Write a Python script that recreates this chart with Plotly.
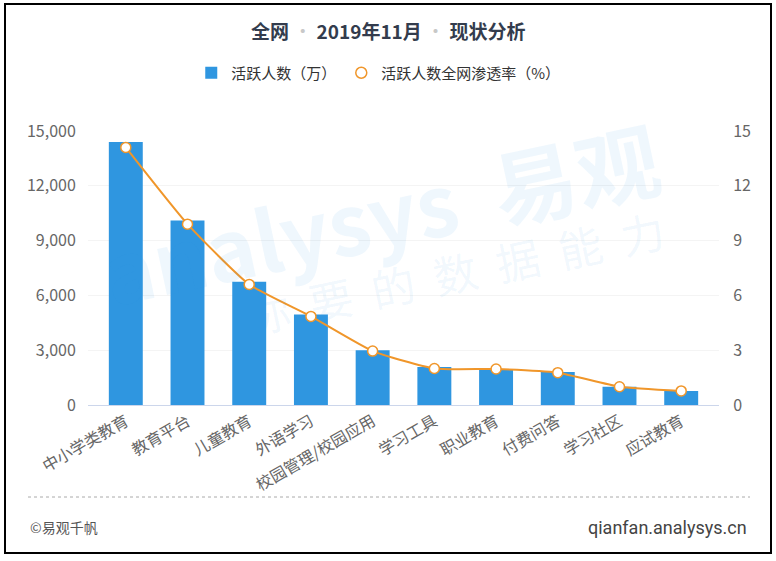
import plotly.graph_objects as go

categories = ["中小学类教育", "教育平台", "儿童教育", "外语学习", "校园管理/校园应用",
              "学习工具", "职业教育", "付费问答", "学习社区", "应试教育"]
active_users = [14400, 10100, 6750, 4950, 3000, 2080, 1970, 1800, 1000, 770]
penetration = [14.1, 9.9, 6.6, 4.85, 2.95, 2.0, 1.97, 1.77, 1.0, 0.77]

left_ticks = [0, 3000, 6000, 9000, 12000, 15000]
right_ticks = [0, 3, 6, 9, 12, 15]

W, H = 776, 561
L, R, T, B = 88, 57, 131, 156
FONT = "Noto Sans CJK SC"
BLUE = "#2f96e0"
ORANGE = "#f0962a"


def px(x):
    return (x - L) / (W - L - R)


def py(y):
    return (H - B - y) / (H - T - B)


def note(x, y, text, size, color, anchor="center", family=FONT, angle=0):
    fig.add_annotation(x=px(x), y=py(y), xref="paper", yref="paper", showarrow=False,
                       xanchor=anchor, yanchor="middle", text=text, textangle=angle,
                       font=dict(size=size, color=color, family=family))


fig = go.Figure()

fig.add_trace(go.Bar(
    x=categories, y=active_users, name="活跃人数（万）",
    marker=dict(color=BLUE, line=dict(width=0)),
))

fig.add_trace(go.Scatter(
    x=categories, y=penetration, name="活跃人数全网渗透率（%）", yaxis="y2",
    mode="lines+markers", showlegend=False,
    line=dict(color=ORANGE, width=2, shape="spline", smoothing=0.5),
    marker=dict(size=10, color="white", line=dict(color=ORANGE, width=1.5)),
))

# legend entry: open circle only, like the original
fig.add_trace(go.Scatter(
    x=[None], y=[None], name="活跃人数全网渗透率（%）", yaxis="y2", mode="markers",
    marker=dict(size=11, color="white", line=dict(color=ORANGE, width=1.5)),
))

fig.update_layout(
    width=W, height=H,
    margin=dict(l=L, r=R, t=T, b=B),
    paper_bgcolor="white", plot_bgcolor="white",
    font=dict(family=FONT, size=14, color="#666"),
    bargap=0.45,
    showlegend=True,
    legend=dict(orientation="h", x=0.46, xanchor="center", y=py(73), yanchor="middle",
                font=dict(size=15, color="#333"), itemwidth=30, tracegroupgap=0),
    xaxis=dict(showgrid=False, tickangle=-30, showline=True, linecolor="#ccd6eb",
               ticks="", tickfont=dict(size=16, color="#666")),
    yaxis=dict(range=[0, 15000], tickvals=left_ticks, tickformat=",",
               showgrid=True, gridcolor="#f4f4f4", zeroline=False,
               tickfont=dict(size=16, color="#666"), ticklen=8, ticks="outside",
               tickcolor="white"),
    yaxis2=dict(range=[0, 15], tickvals=right_ticks, overlaying="y", side="right",
                showgrid=False, zeroline=False,
                tickfont=dict(size=16, color="#666"), ticks="outside", ticklen=10,
                tickcolor="white"),
)

# watermark text
nb = "\u00a0\u00a0"
note(380, 212, "<b>analysys" + nb + "易观</b>", 84, "rgba(47,150,224,0.08)", angle=-12)
note(455, 272, nb.join("你要的数据能力"), 44, "rgba(47,150,224,0.07)", angle=-12)

# title
note(388, 30, "<b>全网</b> <span style='color:#c8c8c8'>•</span> <b>2019年11月</b> "
     "<span style='color:#c8c8c8'>•</span> <b>现状分析</b>", 19, "#333c4d")

# footer
fig.add_shape(type="line", xref="paper", yref="paper",
              x0=px(28), x1=px(750), y0=py(497), y1=py(497),
              line=dict(color="#aaa", width=1, dash="dot"))
note(28, 527, "©易观千帆", 14, "#555", anchor="left")
note(749, 527, "qianfan.analysys.cn", 18, "#444", anchor="right", family="Roboto")

# frame
fig.add_shape(type="rect", xref="paper", yref="paper",
              x0=px(5), x1=px(771), y0=py(553), y1=py(4),
              line=dict(color="black", width=2), fillcolor="rgba(0,0,0,0)")

fig.write_html("out.html", config={"displayModeBar": False},
               post_script="document.body.style.margin='0';")
